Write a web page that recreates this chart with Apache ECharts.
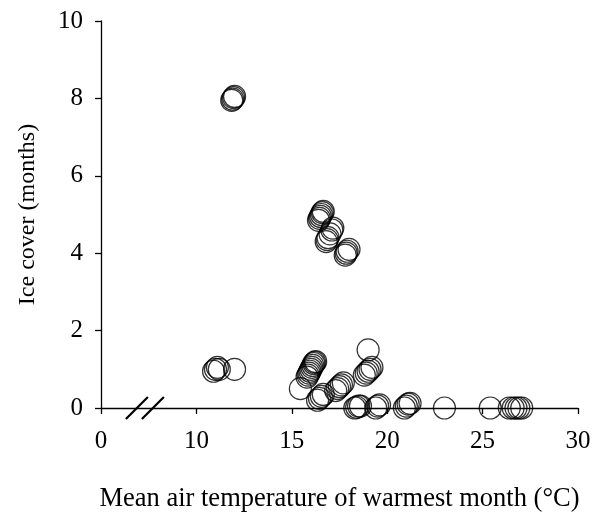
<!DOCTYPE html>
<html>
<head>
<meta charset="utf-8">
<script src="https://cdn.jsdelivr.net/npm/echarts@6/dist/echarts.min.js"></script>
<style>
html,body{margin:0;padding:0;background:#fff;}
#chart{width:592px;height:514px;}
</style>
</head>
<body>
<div id="chart"></div>
<script>
// Mean air temperature of warmest month (°C)
const tempWarmest = [
  11.85, 11.9, 11.95, 12.0,
  16.4, 16.45, 16.5, 16.55, 16.6, 16.65,
  16.8, 16.85, 16.9, 17.0, 17.1, 17.15,
  17.8, 17.85, 17.9, 18.0,
  10.9, 11.0, 11.1, 11.2, 12.0,
  15.8, 15.85, 15.9, 15.95, 16.0, 16.05, 16.1, 16.15, 16.2, 16.25,
  15.45,
  16.35, 16.45, 16.55, 16.65,
  17.3, 17.4, 17.5, 17.6, 17.7,
  19.0,
  18.8, 18.9, 19.0, 19.1, 19.2,
  18.3, 18.4, 18.5, 18.6,
  19.4, 19.5, 19.6,
  20.9, 21.0, 21.1, 21.2,
  23.0, 25.4,
  26.4, 26.6, 26.75, 26.9, 27.05
];
// Ice cover (months)
const iceCover = [
  7.95, 7.98, 8.02, 8.05,
  4.85, 4.9, 4.95, 5.0, 5.05, 5.08,
  4.3, 4.35, 4.4, 4.5, 4.6, 4.65,
  3.95, 4.0, 4.05, 4.1,
  0.95, 1.0, 1.05, 1.0, 1.0,
  0.8, 0.85, 0.9, 0.95, 1.0, 1.05, 1.1, 1.15, 1.18, 1.2,
  0.5,
  0.2, 0.25, 0.3, 0.35,
  0.45, 0.5, 0.55, 0.6, 0.65,
  1.5,
  0.85, 0.9, 0.95, 1.0, 1.05,
  0.0, 0.02, 0.05, 0.05,
  0.0, 0.05, 0.08,
  0.0, 0.05, 0.1, 0.12,
  0.0, 0.0,
  0.0, 0.0, 0.0, 0.0, 0.0
];
const xTickLabels = ['0', '10', '15', '20', '25', '30'];
const yTickLabels = ['0', '2', '4', '6', '8', '10'];
const axisBreakAt = [7.3];

const points = tempWarmest.map((x, i) => [x, iceCover[i]]);
const font = 'Liberation Serif';

const chart = echarts.init(document.getElementById('chart'), null, {renderer: 'canvas'});
chart.setOption({
  animation: false,
  backgroundColor: '#fff',
  grid: {left: 101, right: 14, top: 21, bottom: 106, containLabel: false, outerBoundsMode: 'none'},
  xAxis: {
    type: 'value', min: 5, max: 30, interval: 5,
    name: 'Mean air temperature of warmest month (°C)',
    nameLocation: 'middle', nameGap: 78,
    nameTextStyle: {fontFamily: font, fontSize: 26.5, color: '#000'},
    axisLine: {show: true, lineStyle: {color: '#000', width: 1.3}},
    axisTick: {show: true, inside: false, length: 6, lineStyle: {color: '#000', width: 1.3}},
    axisLabel: {
      fontFamily: font, fontSize: 25, color: '#000', margin: 21,
      formatter: v => xTickLabels[Math.round((v - 5) / 5)]
    },
    splitLine: {show: false}
  },
  yAxis: {
    type: 'value', min: 0, max: 10, interval: 2,
    name: 'Ice cover (months)',
    nameLocation: 'middle', nameGap: 61, nameRotate: 90,
    nameTextStyle: {fontFamily: font, fontSize: 24, color: '#000'},
    axisLine: {show: true, lineStyle: {color: '#000', width: 1.3}},
    axisTick: {show: true, inside: false, length: 6, lineStyle: {color: '#000', width: 1.3}},
    axisLabel: {
      fontFamily: font, fontSize: 25, color: '#000', margin: 18,
      formatter: v => yTickLabels[Math.round(v / 2)]
    },
    splitLine: {show: false}
  },
  series: [
    {
      type: 'scatter',
      data: points,
      symbol: 'circle',
      symbolSize: 22,
      itemStyle: {color: 'rgba(0,0,0,0)', borderColor: '#000', borderWidth: 1.2},
      emphasis: {disabled: true},
      z: 3
    },
    {
      type: 'custom',
      data: axisBreakAt.map(x => [x, 0]),
      silent: true,
      clip: false,
      z: 4,
      renderItem: (params, api) => {
        const p = api.coord([api.value(0), api.value(1)]);
        const dx = 11, dy = 11, off = 8;
        return {
          type: 'group',
          children: [-off, off].map(o => ({
            type: 'line',
            shape: {x1: p[0] + o - dx, y1: p[1] + dy, x2: p[0] + o + dx, y2: p[1] - dy},
            style: {stroke: '#000', lineWidth: 2.2}
          }))
        };
      }
    }
  ]
});
</script>
</body>
</html>
